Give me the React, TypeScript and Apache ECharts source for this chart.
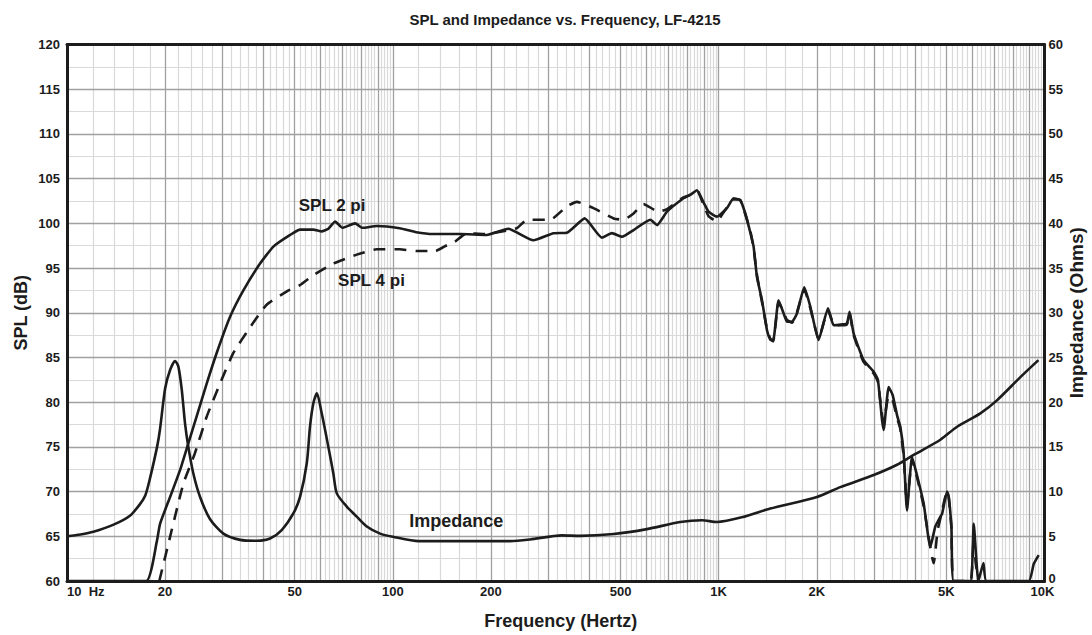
import React, { useEffect, useRef } from 'react';
import * as echarts from 'echarts';

// ---------- data ----------
const spl2piFreq = [10, 17.5, 18.86, 19.3, 20.72, 22.23, 23.57, 25.0, 26.85, 28.8, 31.66, 34.78, 39.13, 43.0, 48.4, 51.9, 57.0, 60.5, 63.4, 66.5, 70.0, 76.6, 80.5, 89.3, 105, 118, 133, 161, 194, 226, 270, 311, 342, 388, 438, 470, 505, 548, 617, 647, 694, 780, 820, 858, 900, 931, 988, 1060, 1111, 1165, 1207, 1250, 1280, 1311, 1358, 1407, 1440, 1470, 1527, 1580, 1620, 1680, 1738, 1831, 1911, 2026, 2166, 2254, 2400, 2475, 2522, 2595, 2785, 2990, 3080, 3173, 3209, 3324, 3420, 3530, 3610, 3696, 3784, 3921, 4050, 4256, 4462, 4624, 4791, 4849, 5022, 5080, 5180, 5263, 5920, 6064, 6266, 6495, 6632, 8943, 9266, 9598];
const spl2piDb = [60, 60, 64.4, 66.4, 69.4, 72.4, 75.4, 78.4, 82.1, 85.5, 89.55, 92.5, 95.5, 97.4, 98.7, 99.3, 99.3, 99.1, 99.4, 100.2, 99.5, 100.0, 99.5, 99.7, 99.45, 99.0, 98.8, 98.8, 98.7, 99.4, 98.1, 98.9, 98.95, 100.55, 98.4, 98.9, 98.5, 99.25, 100.4, 99.8, 101.3, 102.8, 103.2, 103.7, 102.3, 101.3, 100.75, 101.7, 102.8, 102.6, 101.1, 99.0, 97.4, 94.0, 91.4, 88.05, 87.0, 86.9, 91.4, 90.0, 89.0, 89.0, 89.9, 92.85, 90.7, 86.95, 90.5, 88.6, 88.7, 88.8, 90.1, 87.7, 84.7, 83.4, 82.5, 78.0, 76.9, 81.7, 80.8, 78.5, 77.25, 74.3, 67.9, 73.9, 72.0, 68.7, 63.8, 66.1, 67.2, 67.5, 70.0, 69.5, 66.0, 60, 60, 66.4, 60, 62, 60, 60, 61.9, 62.9];

const spl4piFreq = [19.2, 20.96, 22.76, 24.7, 26.85, 29.5, 32.4, 36.5, 41.0, 47.3, 51.9, 57.0, 65.7, 77.5, 89.3, 105, 118, 135, 146.5, 155, 168.7, 190, 210, 240, 258, 304, 342, 367, 413, 476, 511, 548, 588, 654, 694, 780, 820, 858, 900, 931, 965, 988, 1030, 1111, 1165, 1207, 1250, 1280, 1311, 1358, 1407, 1440, 1470, 1527, 1580, 1620, 1680, 1738, 1831, 1911, 2026, 2166, 2254, 2400, 2475, 2522, 2595, 2785, 2990, 3080, 3173, 3209, 3324, 3420, 3530, 3610, 3696, 3784, 3921, 4050, 4256, 4569, 4700, 4791, 5022, 5080, 5180, 5263, 5920, 6064, 6150, 6266];
const spl4piDb = [60, 65.7, 70.9, 74.3, 78.4, 82.1, 85.5, 88.4, 90.9, 92.4, 93.1, 94.2, 95.5, 96.5, 97.1, 97.1, 96.9, 96.9, 97.55, 97.95, 98.9, 98.8, 99.0, 99.45, 100.4, 100.4, 101.9, 102.4, 101.7, 100.55, 100.4, 101.1, 102.15, 101.3, 101.6, 102.9, 103.2, 103.7, 102.0, 100.8, 100.4, 100.2, 101.1, 102.7, 102.6, 101.0, 99.2, 97.2, 94.2, 91.2, 88.2, 87.1, 86.8, 91.2, 90.1, 89.2, 88.9, 90.0, 92.6, 90.5, 87.1, 90.3, 88.7, 88.6, 88.7, 89.9, 87.5, 84.5, 83.2, 82.3, 78.5, 77.8, 80.7, 80.2, 78.2, 77.0, 74.0, 68.5, 73.6, 71.8, 68.4, 62.0, 65.7, 67.0, 70.0, 69.4, 66.0, 60, 60, 65.0, 62.0, 60];

const impFreq = [10, 11, 12.05, 13.9, 15.6, 16.75, 17.4, 17.9, 18.9, 19.3, 20.0, 20.72, 21.47, 21.96, 22.5, 23.03, 23.57, 24.43, 25.61, 27.49, 30.2, 34.0, 38.2, 42.0, 45.6, 49.5, 51.9, 54.45, 55.7, 57.05, 58.45, 60.5, 63.4, 65.7, 67.3, 72.3, 77.5, 83.2, 91.4, 100, 120, 229, 264, 330, 376, 476, 602, 762, 889, 988, 1200, 1440, 2003, 2362, 2990, 3527, 3967, 4791, 5391, 6355, 7145, 8433, 9580];
const impOhm = [5.0, 5.2, 5.5, 6.3, 7.3, 8.6, 9.6, 11.2, 15.0, 17.0, 21.5, 23.6, 24.6, 24.0, 21.4, 17.6, 15.0, 12.0, 9.4, 6.9, 5.3, 4.6, 4.5, 4.75, 5.7, 7.55, 9.4, 13.2, 17.3, 19.9, 21.0, 18.75, 15.0, 12.0, 9.8, 8.3, 7.2, 6.1, 5.3, 4.95, 4.46, 4.46, 4.65, 5.1, 5.05, 5.25, 5.8, 6.6, 6.8, 6.6, 7.2, 8.1, 9.4, 10.5, 11.85, 13.0, 14.1, 15.8, 17.25, 18.75, 20.2, 22.8, 24.7];

const xTickValues = [10, 20, 50, 100, 200, 500, 1000, 2000, 5000, 10000];
const xTickLabels = ['10  Hz', '20', '50', '100', '200', '500', '1K', '2K', '5K', '10K'];

const TITLE = 'SPL and Impedance vs. Frequency, LF-4215';

// ---------- styles ----------
const FONT = '"Liberation Sans", Arial, Helvetica, sans-serif';
const INK = '#1c1c1c';
const DARK_GRID = '#a0a0a0';
const LIGHT_GRID = '#d9d9d9';

function buildGridLines() {
  const darkX: number[] = [];
  const lightX: number[] = [];
  [10, 100, 1000].forEach((d) => {
    for (let m = 1; m <= 9; m++) {
      if (!(m === 1 && d === 10)) darkX.push(m * d);
      for (let k = 1; k <= 4; k++) lightX.push(Math.round((m + 0.2 * k) * d * 1000) / 1000);
    }
  });
  const darkY: number[] = [];
  const lightY: number[] = [];
  for (let v = 62.5; v < 120; v += 5) lightY.push(v);
  for (let v = 65; v < 120; v += 5) darkY.push(v);

  const lightStyle = { color: LIGHT_GRID, width: 1.2, type: 'solid' };
  const darkStyle = { color: DARK_GRID, width: 1.3, type: 'solid' };
  const labelFor = (v: number) => {
    const i = xTickValues.indexOf(v);
    if (i < 0) return { show: false };
    return {
      show: true,
      position: 'start',
      distance: 4,
      formatter: xTickLabels[i],
      align: v === 10 ? 'left' : 'center',
      padding: v === 10000 ? [0, 4, 0, 0] : 0,
      color: INK,
      fontSize: 13,
      fontWeight: 'bold',
      fontFamily: FONT,
    };
  };
  const items: any[] = [];
  lightX.forEach((v) => items.push({ xAxis: v, lineStyle: lightStyle, label: { show: false } }));
  lightY.forEach((v) => items.push({ yAxis: v, lineStyle: lightStyle, label: { show: false } }));
  darkY.forEach((v) => items.push({ yAxis: v, lineStyle: darkStyle, label: { show: false } }));
  darkX.forEach((v) => items.push({ xAxis: v, lineStyle: darkStyle, label: labelFor(v) }));
  [10, 10000].forEach((v) =>
    items.push({ xAxis: v, lineStyle: { color: INK, width: 1, type: 'solid' }, label: labelFor(v) })
  );
  return items;
}

const textLabel = (text: string, size: number) => ({
  show: true,
  position: 'inside',
  formatter: text,
  color: INK,
  fontSize: size,
  fontWeight: 'bold',
  fontFamily: FONT,
});

export default function App() {
  const ref = useRef<HTMLDivElement>(null);

  useEffect(() => {
    if (!ref.current) return;
    const chart = echarts.init(ref.current, null, { renderer: 'svg' });

    const borderAxisLine = { show: true, onZero: false, lineStyle: { color: INK, width: 3 } };
    const tickLabelStyle = { color: INK, fontSize: 13, fontWeight: 'bold', fontFamily: FONT };
    const nameStyle = { color: INK, fontSize: 18, fontWeight: 'bold', fontFamily: FONT };

    const option: any = {
      animation: false,
      backgroundColor: '#ffffff',
      textStyle: { fontFamily: FONT },
      title: {
        text: TITLE,
        left: 565,
        top: 12,
        padding: 0,
        textAlign: 'center',
        textStyle: { color: INK, fontSize: 15, fontWeight: 'bold', fontFamily: FONT },
      },
      grid: { left: 67, right: 47.5, top: 44.5, bottom: 54, outerBoundsMode: 'none' },
      xAxis: [
        {
          type: 'log',
          logBase: 10,
          min: 10,
          max: 10000,
          position: 'bottom',
          z: 10,
          axisLine: borderAxisLine,
          axisTick: { show: false },
          axisLabel: { show: false },
          splitLine: { show: false },
          name: 'Frequency (Hertz)',
          nameLocation: 'middle',
          nameGap: 31,
          nameMoveOverlap: false,
          nameTextStyle: { ...nameStyle, padding: [0, 0, 0, 10] },
        },
        {
          type: 'log',
          logBase: 10,
          min: 10,
          max: 10000,
          position: 'top',
          z: 10,
          axisLine: borderAxisLine,
          axisTick: { show: false },
          axisLabel: { show: false },
          splitLine: { show: false },
        },
      ],
      yAxis: [
        {
          type: 'value',
          min: 60,
          max: 120,
          interval: 5,
          position: 'left',
          z: 10,
          axisLine: borderAxisLine,
          axisTick: { show: false },
          axisLabel: { ...tickLabelStyle, margin: 7 },
          splitLine: { show: false },
          name: 'SPL (dB)',
          nameLocation: 'middle',
          nameGap: 37,
          nameRotate: 90,
          nameMoveOverlap: false,
          nameTextStyle: nameStyle,
        },
        {
          type: 'value',
          min: 0,
          max: 60,
          interval: 5,
          position: 'right',
          z: 10,
          axisLine: borderAxisLine,
          axisTick: { show: false },
          axisLabel: {
            ...tickLabelStyle,
            margin: 4,
            formatter: (v: number) => (v === 0 ? '{z|0}' : String(v)),
            rich: { z: { ...tickLabelStyle, padding: [0, 0, 6, 0] } },
          },
          splitLine: { show: false },
          name: 'Impedance (Ohms)',
          nameLocation: 'middle',
          nameGap: 22,
          nameRotate: 90,
          nameMoveOverlap: false,
          nameTextStyle: { ...nameStyle, fontSize: 19 },
        },
      ],
      series: [
        {
          name: 'grid',
          type: 'line',
          xAxisIndex: 0,
          yAxisIndex: 0,
          data: [],
          symbol: 'none',
          silent: true,
          z: 1,
          markLine: {
            silent: true,
            symbol: ['none', 'none'],
            animation: false,
            label: { show: false },
            emphasis: { disabled: true },
            data: buildGridLines(),
          },
        },
        {
          name: 'Impedance',
          type: 'line',
          xAxisIndex: 0,
          yAxisIndex: 1,
          data: impFreq.map((f, i) => [f, impOhm[i]]),
          symbol: 'none',
          smooth: 0.25,
          lineStyle: { color: INK, width: 2.6 },
          z: 5,
          markPoint: {
            silent: true,
            symbol: 'rect',
            symbolSize: 1,
            itemStyle: { color: 'rgba(0,0,0,0)' },
            label: textLabel('Impedance', 18),
            data: [{ coord: [156.5, 6.7] }],
          },
        },
        {
          name: 'SPL 4 pi',
          type: 'line',
          xAxisIndex: 0,
          yAxisIndex: 0,
          data: spl4piFreq.map((f, i) => [f, spl4piDb[i]]),
          symbol: 'none',
          smooth: 0.15,
          lineStyle: { color: INK, width: 2.6, type: [12, 9] },
          z: 5,
          markPoint: {
            silent: true,
            symbol: 'rect',
            symbolSize: 1,
            itemStyle: { color: 'rgba(0,0,0,0)' },
            label: textLabel('SPL 4 pi', 17),
            data: [{ coord: [86.0, 93.66] }],
          },
        },
        {
          name: 'SPL 2 pi',
          type: 'line',
          xAxisIndex: 0,
          yAxisIndex: 0,
          data: spl2piFreq.map((f, i) => [f, spl2piDb[i]]),
          symbol: 'none',
          smooth: 0.15,
          lineStyle: { color: INK, width: 2.6 },
          z: 6,
          markPoint: {
            silent: true,
            symbol: 'rect',
            symbolSize: 1,
            itemStyle: { color: 'rgba(0,0,0,0)' },
            label: textLabel('SPL 2 pi', 17),
            data: [{ coord: [65.1, 102.05] }],
          },
        },
      ],
    };

    chart.setOption(option);
    return () => chart.dispose();
  }, []);

  return (
    <div
      ref={ref}
      style={{ position: 'fixed', left: 0, top: 0, width: 1092, height: 635, background: '#fff' }}
    />
  );
}
